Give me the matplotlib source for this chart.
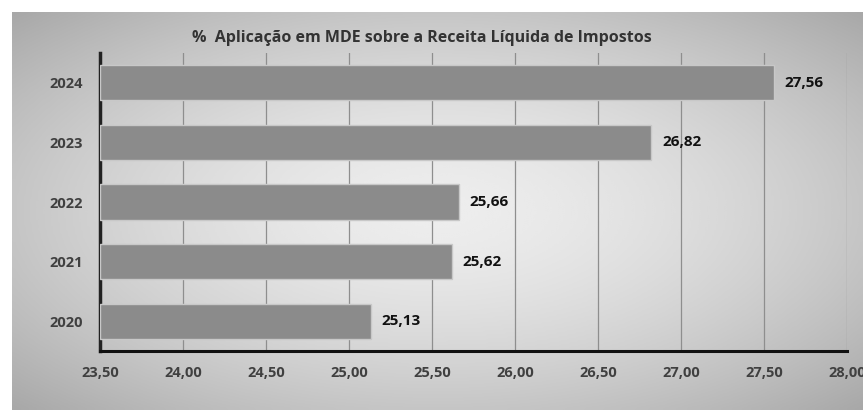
import matplotlib
matplotlib.use("Agg")
import matplotlib.pyplot as plt
import numpy as np

years = ["2020", "2021", "2022", "2023", "2024"]
values = [25.13, 25.62, 25.66, 26.82, 27.56]
xticks = [23.5, 24.0, 24.5, 25.0, 25.5, 26.0, 26.5, 27.0, 27.5, 28.0]
title = "%  Aplicação em MDE sobre a Receita Líquida de Impostos"

plt.rcParams['font.family'] = ['Open Sans', 'DejaVu Sans']

W, H = 863, 411
fig = plt.figure(figsize=(W / 100, H / 100), dpi=100)
fig.patch.set_facecolor("white")

# background gradient panel
bg = fig.add_axes([12 / W, 0.5 / H, (W - 12) / W, (H - 12.5) / H])
bg.set_axis_off()
ny, nx = 200, 400
yy, xx = np.mgrid[0:1:ny * 1j, 0:1:nx * 1j]
r = np.sqrt(((xx - 0.5) / 0.75) ** 2 + ((yy - 0.5) / 0.75) ** 2)
vals = 0.93 - 0.30 * np.clip(r, 0, 1) ** 1.6
bg.imshow(vals, cmap="gray", vmin=0, vmax=1, aspect="auto",
          extent=[0, 1, 0, 1], interpolation="bicubic")
bg.set_xlim(0, 1)
bg.set_ylim(0, 1)

ax = fig.add_axes([100 / W, (H - 351) / H, (847 - 100) / W, (351 - 53) / H])
ax.patch.set_alpha(0)
ypos = np.arange(len(years))
ax.barh(ypos, [v - xticks[0] for v in values], left=xticks[0], height=0.59,
        color="#8b8b8b", edgecolor="#c8c8c8", linewidth=1.0, zorder=3)
ax.set_xlim(xticks[0], xticks[-1])
ax.set_ylim(-0.5, len(years) - 0.5)
ax.set_xticks(xticks)
ax.set_xticklabels([f"{t:.2f}".replace(".", ",") for t in xticks],
                   fontsize=10.5, fontweight="bold", color="#404040")
ax.set_yticks(ypos)
ax.set_yticklabels(years, fontsize=10.5, fontweight="bold", color="#404040")
ax.tick_params(axis="y", length=0, pad=12)
ax.tick_params(axis="x", length=0, pad=11)
ax.grid(axis="x", color="#8e8e8e", linewidth=0.9, zorder=1)
ax.set_axisbelow(True)
for s in ["top", "right"]:
    ax.spines[s].set_visible(False)
ax.spines["left"].set_linewidth(2.5)
ax.spines["left"].set_color("#222222")
ax.spines["bottom"].set_linewidth(2.2)
ax.spines["bottom"].set_color("#111111")

for y, v in zip(ypos, values):
    ax.text(v + 0.065, y, f"{v:.2f}".replace(".", ","), va="center", ha="left",
            fontsize=11, fontweight="bold", color="#111111", zorder=4)

fig.text(422 / W, 1 - 38 / H, title, ha="center", va="center",
         fontsize=11.5, fontweight="bold", color="#333333")

fig.savefig("out.png", dpi=100)
